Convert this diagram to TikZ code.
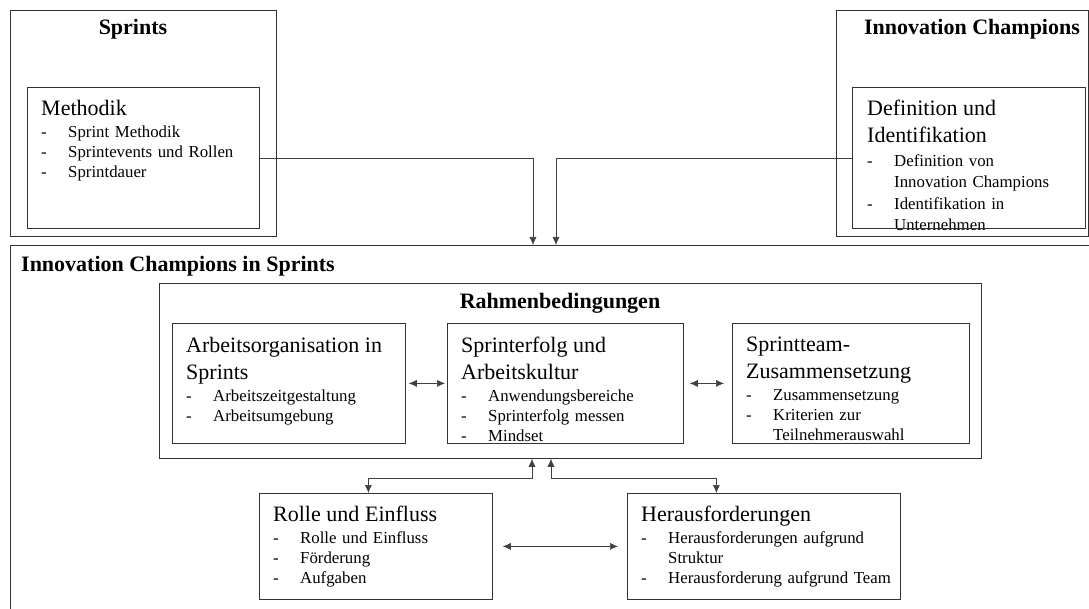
\documentclass[tikz,border=0pt]{standalone}
\usepackage{fontspec}
\setmainfont{Liberation Serif}
\usetikzlibrary{arrows.meta}
\newcommand{\hd}[1]{{\fontsize{22}{27}\selectfont #1\par}\vspace{2pt}}
\newcommand{\bl}[1]{\hangindent=27pt\hangafter=1\noindent\makebox[27pt][l]{-}#1\par}
\newcommand{\nl}{\hfil\break}
\tikzset{
  box/.style={draw=black!80, line width=0.8pt, inner sep=0pt, anchor=north west},
  txt/.style={anchor=north west, inner sep=0pt, text width=250pt, font=\fontsize{16.8}{20}\selectfont},
  ttl/.style={inner sep=0pt, font=\fontsize{22}{26}\selectfont\bfseries},
  conn/.style={draw=black!75, line width=0.6pt},
  tip/.style={-{Latex[length=8pt,width=7pt]}},
  dtip/.style={{Latex[length=8pt,width=7pt]}-{Latex[length=8pt,width=7pt]}}
}
\begin{document}
\begin{tikzpicture}[x=1pt,y=-1pt]
\useasboundingbox (0,0) rectangle (1089,609);
% outer frames
\node[box, minimum width=266pt, minimum height=226pt] (spr) at (10,10) {};
\node[box, minimum width=252pt, minimum height=226pt] (icb) at (836,10) {};
\draw[draw=black!80, line width=0.8pt] (10,609) -- (10,245) -- (1089,245);
\node[ttl, anchor=base] (tspr) at (133,35) {Sprints};
\node[ttl, anchor=base] (ticb) at (972,35) {Innovation Champions};
\node[ttl, anchor=base west] (tics) at (21,272) {Innovation Champions in Sprints};
% top inner boxes
\node[box, minimum width=232pt, minimum height=141pt] (met) at (27,87) {};
\node[txt] (tmet) at (41,100) {\hd{Methodik}\bl{Sprint Methodik}\bl{Sprintevents und Rollen}\bl{Sprintdauer}};
\node[txt, font=\fontsize{16.8}{21.5}\selectfont] (tdef) at (867,100) {\hd{Definition und\nl Identifikation}\bl{Definition von\nl Innovation Champions}\bl{Identifikation in\nl Unternehmen}};
\node[box, minimum width=233pt, minimum height=141pt] (def) at (852,87) {};
% Rahmenbedingungen
\node[box, minimum width=822pt, minimum height=175pt] (rah) at (159,283) {};
\node[ttl, anchor=base] (trah) at (560,309) {Rahmenbedingungen};
\node[box, minimum width=233pt, minimum height=120pt] (arb) at (172,323) {};
\node[txt] (tarb) at (186,337) {\hd{Arbeitsorganisation in\nl Sprints}\bl{Arbeitszeitgestaltung}\bl{Arbeitsumgebung}};
\node[box, minimum width=236pt, minimum height=120pt] (erf) at (447,323) {};
\node[txt] (terf) at (461,337) {\hd{Sprinterfolg und\nl Arbeitskultur}\bl{Anwendungsbereiche}\bl{Sprinterfolg messen}\bl{Mindset}};
\node[box, minimum width=237pt, minimum height=120pt] (stm) at (732,323) {};
\node[txt] (tstm) at (746,337) {\hd{Sprintteam-\nl Zusammensetzung}\bl{Zusammensetzung}\bl{Kriterien zur\nl Teilnehmerauswahl}};
% bottom boxes
\node[box, minimum width=233pt, minimum height=106pt] (rol) at (259,493) {};
\node[txt] (trol) at (273,506) {\hd{Rolle und Einfluss}\bl{Rolle und Einfluss}\bl{Förderung}\bl{Aufgaben}};
\node[box, minimum width=273pt, minimum height=106pt] (her) at (627,493) {};
\node[txt, text width=262pt] (ther) at (641,506) {\hd{Herausforderungen}\bl{Herausforderungen aufgrund\nl Struktur}\bl{Herausforderung aufgrund Team}};
% coordinates
\coordinate (cTL) at (533,245);
\coordinate (cTR) at (556,245);
\coordinate (cBL) at (532,478);
\coordinate (cBR) at (551,478);
% connectors
\draw[conn, tip] (met.east) -| (cTL);
\draw[conn, tip] (def.west) -| (cTR);
\draw[conn, dtip, shorten <=3pt, shorten >=2pt] (arb.east) -- (erf.west);
\draw[conn, dtip, shorten <=6pt, shorten >=8pt] (erf.east) -- (stm.west);
\draw[conn, dtip, shorten <=10pt, shorten >=9pt] (rol.east) -- (her.west);
\draw[conn, dtip] ([xshift=-7.5pt]rol.north) |- (cBL) -- (cBL |- rah.south);
\draw[conn, dtip] ([xshift=-47.5pt]her.north) |- (cBR) -- (cBR |- rah.south);
\end{tikzpicture}
\end{document}
